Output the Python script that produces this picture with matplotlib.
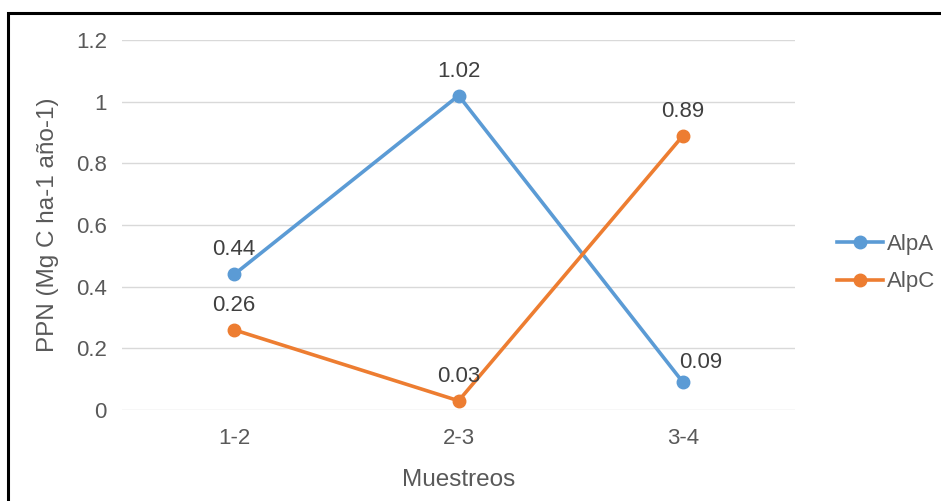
import matplotlib.pyplot as plt
from matplotlib.patches import Rectangle

plt.rcParams['font.family'] = ['Liberation Sans', 'DejaVu Sans']

muestreos = ['1-2', '2-3', '3-4']
alpa = [0.44, 1.02, 0.09]
alpc = [0.26, 0.03, 0.89]
yticks = [0, 0.2, 0.4, 0.6, 0.8, 1, 1.2]
ytick_labels = ['0', '0.2', '0.4', '0.6', '0.8', '1', '1.2']

blue = '#5B9BD5'
orange = '#ED7D31'
gray = '#595959'

fig = plt.figure(figsize=(9.41, 5.01), dpi=100)
ax = fig.add_axes([0.1297, 0.1816, 0.7153, 0.7384])

x = list(range(len(muestreos)))
ax.plot(x, alpa, color=blue, lw=2.6, marker='o', ms=9, label='AlpA', zorder=3)
ax.plot(x, alpc, color=orange, lw=2.6, marker='o', ms=9, label='AlpC', zorder=3)

# value labels above each point
for i, v in enumerate(alpa):
    dx = 13 if i == 2 else 0
    dy = 7 if i == 2 else 10
    ax.annotate(f'{v:.2f}', (i, v), xytext=(dx, dy), textcoords='offset points',
                ha='center', va='bottom', fontsize=16, color='#404040')
for i, v in enumerate(alpc):
    ax.annotate(f'{v:.2f}', (i, v), xytext=(0, 10), textcoords='offset points',
                ha='center', va='bottom', fontsize=16, color='#404040')

ax.set_xlim(-0.5, 2.5)
ax.set_ylim(0, 1.2)
ax.set_xticks(x)
ax.set_xticklabels(muestreos)
ax.set_yticks(yticks)
ax.set_yticklabels(ytick_labels)
ax.tick_params(length=0, labelsize=16, labelcolor=gray, pad=11)
ax.tick_params(axis='x', pad=13)
ax.grid(axis='y', color='#D9D9D9', lw=1)
ax.set_axisbelow(True)
for s in ax.spines.values():
    s.set_visible(False)

ax.set_xlabel('Muestreos', fontsize=17.5, color=gray, labelpad=14)
ax.set_ylabel('PPN (Mg C ha-1 año-1)', fontsize=17.5, color=gray, labelpad=12)

fig.legend(loc='center left', bbox_to_anchor=(0.868, 0.475), frameon=False,
           fontsize=16, labelcolor=gray, handlelength=2.1, handletextpad=0.15,
           labelspacing=0.75)

# chart frame
fig.patches.append(Rectangle((8 / 941, -0.05), 1.0, 1 - 13 / 501 + 0.05,
                             transform=fig.transFigure, fill=False,
                             edgecolor='black', lw=2.2))

fig.savefig('out.png', dpi=100)
